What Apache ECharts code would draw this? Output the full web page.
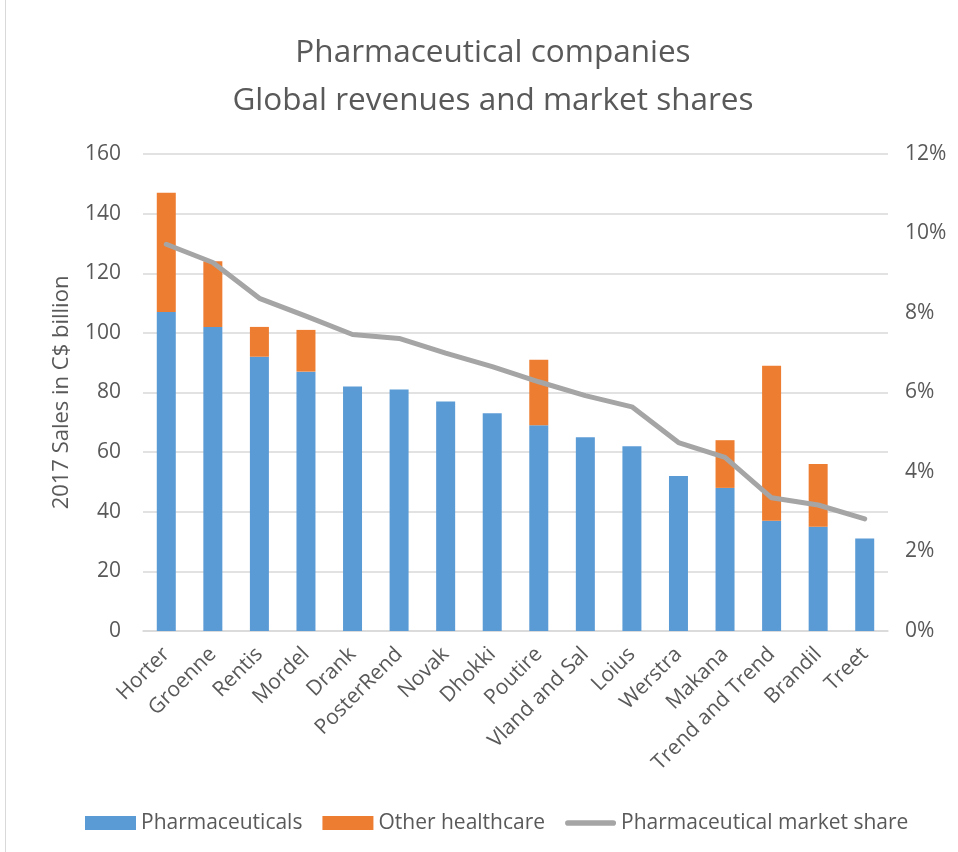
<!DOCTYPE html>
<html><head><meta charset="utf-8">
<script src="https://cdn.jsdelivr.net/npm/echarts@6/dist/echarts.min.js"></script>
<style>html,body{margin:0;padding:0;background:#fff}#c{width:958px;height:852px}</style>
</head><body><div id="c"></div>
<script>
const categories = ["Horter","Groenne","Rentis","Mordel","Drank","PosterRend","Novak","Dhokki","Poutire","Vland and Sal","Loius","Werstra","Makana","Trend and Trend","Brandil","Treet"];
const pharmaceuticals = [107,102,92,87,82,81,77,73,69,65,62,52,48,37,35,31];
const otherHealthcare = [40,22,10,14,0,0,0,0,22,0,0,0,16,52,21,0];
const marketShare = [9.73,9.27,8.37,7.92,7.46,7.36,6.99,6.65,6.27,5.92,5.64,4.74,4.37,3.35,3.17,2.82];
const leftTicks = {min:0,max:160,interval:20};
const rightTicks = {min:0,max:12,interval:2};

const font = 'Open Sans';
const grey = '#595959';
const chart = echarts.init(document.getElementById('c'));
chart.setOption({
  animation:false,
  title:{text:'Pharmaceutical companies\nGlobal revenues and market shares',left:488,textAlign:'center',top:24,
    textStyle:{fontFamily:font,fontSize:31.5,fontWeight:'normal',color:grey,lineHeight:48}},
  grid:{left:143,right:70,top:154,bottom:221},
  legend:{top:807,left:80,itemWidth:51,itemHeight:14,itemGap:20,
    textStyle:{fontFamily:font,fontSize:21,lineHeight:22,color:grey},
    data:[{name:'Pharmaceuticals',icon:'rect'},{name:'Other healthcare',icon:'rect'},
      {name:'Pharmaceutical market share',icon:'path://M3,0 L51,0 A3,3 0 0 1 51,6 L3,6 A3,3 0 0 1 3,0 Z'}]},
  xAxis:{type:'category',data:categories,
    axisLine:{lineStyle:{color:'#d9d9d9',width:1.5}},axisTick:{show:false},
    axisLabel:{rotate:45,interval:0,fontFamily:font,fontSize:21,color:grey,margin:20}},
  yAxis:[{type:'value',min:leftTicks.min,max:leftTicks.max,interval:leftTicks.interval,
      name:'2017 Sales in C$ billion',nameLocation:'middle',nameGap:70,nameRotate:90,
      nameTextStyle:{fontFamily:font,fontSize:22,color:grey},
      axisLine:{show:false},axisTick:{show:false},
      axisLabel:{fontFamily:font,fontSize:21,color:grey,margin:22},
      splitLine:{lineStyle:{color:'#d9d9d9',width:1.5}}},
    {type:'value',min:rightTicks.min,max:rightTicks.max,interval:rightTicks.interval,position:'right',
      axisLine:{show:false},axisTick:{show:false},splitLine:{show:false},
      axisLabel:{fontFamily:font,fontSize:21,color:grey,margin:17,formatter:'{value}%'}}],
  series:[
    {name:'Pharmaceuticals',type:'bar',stack:'s',data:pharmaceuticals,barWidth:19,itemStyle:{color:'#5b9bd5'}},
    {name:'Other healthcare',type:'bar',stack:'s',data:otherHealthcare,barWidth:19,itemStyle:{color:'#ed7d31'}},
    {name:'Pharmaceutical market share',type:'line',yAxisIndex:1,data:marketShare,symbol:'none',
      lineStyle:{color:'#a5a5a5',width:5,cap:'round',join:'round'},itemStyle:{color:'#a5a5a5'}}
  ]
});
</script>
<div style="position:absolute;left:5px;top:0;width:1px;height:852px;background:#d9d9d9"></div>
</body></html>
